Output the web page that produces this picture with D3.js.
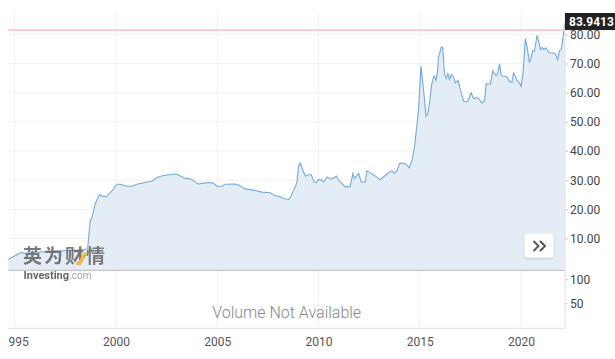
<html>
<head>
<script src="https://d3js.org/d3.v7.min.js"></script>
<style>
    body {margin: 0; background: #fff;}
    text {font-family: Roboto, "Noto Sans", sans-serif;}
</style>
</head>
<body>
<svg width=615 height=359></svg>
<script>
// price history (decimal year, price)
const years = [1994.69, 1995.02, 1995.31, 1995.52, 1996.01, 1996.75, 1997.49, 1998.23, 1998.53, 1998.6,
    1998.73, 1998.81, 1998.98, 1999.06, 1999.19, 1999.31, 1999.52, 1999.80, 2000.05, 2000.21,
    2000.54, 2000.79, 2001.03, 2001.78, 2002.02, 2002.35, 2002.93, 2003.09, 2003.42, 2003.67,
    2003.80, 2004.08, 2004.24, 2004.65, 2004.82, 2004.99, 2005.23, 2005.40, 2005.89, 2006.05,
    2006.38, 2006.79, 2007.21, 2007.62, 2007.78, 2008.11, 2008.27, 2008.52, 2008.60, 2008.85,
    2008.94, 2009.01, 2009.10, 2009.23, 2009.35, 2009.46, 2009.63, 2009.79, 2009.89, 2010.00,
    2010.12, 2010.25, 2010.42, 2010.58, 2010.74, 2010.88, 2010.99, 2011.16, 2011.32, 2011.48,
    2011.57, 2011.70, 2011.78, 2011.98, 2012.11, 2012.31, 2012.39, 2012.56, 2012.72, 2013.05,
    2013.21, 2013.46, 2013.63, 2013.74, 2013.87, 2014.00, 2014.12, 2014.33, 2014.48, 2014.62,
    2014.74, 2014.83, 2014.94, 2015.06, 2015.19, 2015.31, 2015.39, 2015.48, 2015.58, 2015.68,
    2015.73, 2015.80, 2015.88, 2015.93, 2016.06, 2016.13, 2016.22, 2016.31, 2016.39, 2016.47,
    2016.56, 2016.67, 2016.75, 2016.89, 2017.00, 2017.16, 2017.28, 2017.38, 2017.53, 2017.66,
    2017.82, 2017.95, 2018.07, 2018.20, 2018.28, 2018.48, 2018.61, 2018.68, 2018.78, 2018.84,
    2018.94, 2019.02, 2019.14, 2019.31, 2019.39, 2019.47, 2019.55, 2019.63, 2019.72, 2019.80,
    2019.93, 2020.00, 2020.10, 2020.21, 2020.30, 2020.41, 2020.49, 2020.57, 2020.66, 2020.79,
    2020.87, 2020.96, 2021.04, 2021.12, 2021.23, 2021.35, 2021.45, 2021.62, 2021.70, 2021.81,
    2021.90, 2021.98, 2022.08, 2022.16];
const prices = [2.9, 4.1, 5.2, 4.9, 5.3, 5.6, 5.8, 6.0, 6.3, 6.5,
    16.1, 16.9, 22.0, 23.2, 25.1, 24.5, 24.3, 26.3, 28.6, 28.6,
    27.9, 27.9, 28.6, 29.7, 30.9, 31.6, 32.1, 31.8, 30.6, 30.4,
    30.0, 28.6, 28.9, 29.2, 28.9, 27.9, 27.9, 28.6, 28.7, 28.3,
    27.0, 26.6, 25.9, 25.7, 24.9, 24.3, 23.7, 23.4, 23.9, 27.7,
    29.4, 34.6, 35.9, 33.4, 31.4, 31.7, 32.0, 29.4, 29.2, 30.2,
    30.2, 29.4, 31.1, 30.4, 30.7, 31.4, 30.0, 28.9, 27.7, 27.7,
    27.9, 32.3, 30.6, 32.3, 29.4, 29.3, 33.2, 32.5, 31.8, 30.2,
    31.1, 32.6, 33.2, 32.3, 33.2, 35.7, 35.9, 35.5, 34.2, 36.8,
    41.4, 47.1, 54.0, 69.0, 60.8, 51.9, 52.6, 56.3, 62.5, 65.4,
    65.6, 64.2, 67.4, 72.2, 75.6, 75.4, 66.5, 64.8, 66.5, 64.5,
    66.3, 65.4, 63.3, 64.2, 61.1, 57.1, 56.8, 57.2, 59.9, 58.0,
    58.3, 57.6, 56.5, 57.2, 63.1, 62.9, 67.6, 66.5, 65.9, 66.5,
    69.9, 65.9, 65.6, 65.4, 64.2, 63.6, 63.6, 66.7, 65.6, 64.2,
    63.3, 62.2, 66.5, 78.5, 75.6, 70.5, 71.6, 74.4, 74.2, 79.6,
    77.4, 74.8, 75.6, 74.8, 75.4, 73.9, 73.6, 73.6, 73.2, 71.3,
    74.4, 74.8, 79.2, 83.9413];

const priceTicks = [10, 20, 30, 40, 50, 60, 70, 80];
const volumeTicks = [50, 100];
const yearTicks = [1995, 2000, 2005, 2010, 2015, 2020];
const lastPrice = 83.9413;
const prevClose = 81.5;
const volumeNote = "Volume Not Available";

function toDate(y) {
    var yr = Math.floor(y);
    var start = new Date(yr, 0, 1), end = new Date(yr + 1, 0, 1);
    return new Date(+start + (y - yr) * (end - start));
}

const plotLeft = 8, plotRight = 565, plotTop = 12, priceBottom = 270.3, volBottom = 328.3;

var svg = d3.select("svg");

var x = d3.scaleTime()
    .domain([toDate(1994.67), toDate(2022.17)])
    .range([plotLeft, plotRight]);
var y = d3.scaleLinear()
    .domain([-0.9, 87.65])
    .range([priceBottom, plotTop]);
var yv = d3.scaleLinear()
    .domain([-2, 118.75])
    .range([volBottom, priceBottom]);

var data = years.map(function(d, i) { return {date: toDate(d), value: prices[i]}; });

// grid
svg.append("g").selectAll("line")
    .data(yearTicks).enter().append("line")
    .attr("x1", function(d) { return x(toDate(d)); })
    .attr("x2", function(d) { return x(toDate(d)); })
    .attr("y1", plotTop).attr("y2", volBottom)
    .style("stroke", "#f1f1f1");
svg.append("g").selectAll("line")
    .data(priceTicks).enter().append("line")
    .attr("x1", plotLeft).attr("x2", plotRight)
    .attr("y1", function(d) { return y(d); })
    .attr("y2", function(d) { return y(d); })
    .style("stroke", "#f1f1f1");

// price area + line
svg.append("path")
    .datum(data)
    .attr("d", d3.area()
        .x(function(d) { return x(d.date); })
        .y0(priceBottom)
        .y1(function(d) { return y(d.value); }))
    .style("fill", "#e4edf5");
svg.append("path")
    .datum(data)
    .attr("d", d3.line()
        .x(function(d) { return x(d.date); })
        .y(function(d) { return y(d.value); }))
    .style("fill", "none")
    .style("stroke", "#72aadb")
    .style("stroke-width", 1.1);

// previous close line
svg.append("line")
    .attr("x1", plotLeft).attr("x2", plotRight)
    .attr("y1", y(prevClose)).attr("y2", y(prevClose))
    .style("stroke", "#ffbcbc")
    .style("stroke-width", 1.5);

// watermark
var wm = svg.append("g").style("opacity", 0.9);
wm.append("text")
    .attr("x", 23).attr("y", 262.5)
    .style("font-family", "'Noto Sans CJK SC'")
    .style("font-size", "19px")
    .style("font-weight", "bold")
    .style("fill", "#6b6b6b")
    .style("letter-spacing", "2px")
    .text("英为财情");
wm.append("polygon")
    .attr("points", "76,265 80.5,265 88,253 84,252.5")
    .style("fill", "#f2b12e");
var inv = wm.append("text")
    .attr("x", 23.5).attr("y", 278.5)
    .style("font-size", "11px");
inv.append("tspan").style("font-weight", "bold").style("fill", "#555").text("Investing");
inv.append("tspan").style("fill", "#999").style("font-size", "10px").text(".com");

// panel borders
svg.append("line")
    .attr("x1", plotLeft).attr("x2", plotRight)
    .attr("y1", priceBottom).attr("y2", priceBottom)
    .style("stroke", "#c6c6c6").style("stroke-width", 1.3);
svg.append("line")
    .attr("x1", plotLeft).attr("x2", plotRight)
    .attr("y1", volBottom).attr("y2", volBottom)
    .style("stroke", "#dde1e6");
svg.append("line")
    .attr("x1", plotRight).attr("x2", plotRight)
    .attr("y1", plotTop).attr("y2", volBottom)
    .style("stroke", "#e0e0e0");

// right axes
var yAxis = svg.append("g")
    .attr("transform", "translate(" + plotRight + ",0)")
    .call(d3.axisRight(y).tickValues(priceTicks).tickFormat(d3.format(".2f")).tickSize(3).tickPadding(2));
var vAxis = svg.append("g")
    .attr("transform", "translate(" + plotRight + ",0)")
    .call(d3.axisRight(yv).tickValues(volumeTicks).tickSize(3).tickPadding(2));
[yAxis, vAxis].forEach(function(a) {
    a.select(".domain").remove();
    a.selectAll("line").style("stroke", "#ccc");
    a.selectAll("text").style("font-size", "12px").style("fill", "#444").style("font-family", "Roboto");
});

// x axis, clipped at the plot's left edge
var defs = svg.append("defs");
defs.append("clipPath").attr("id", "xclip")
    .append("rect").attr("x", plotLeft).attr("y", volBottom).attr("width", 615 - plotLeft).attr("height", 40);
var xAxis = svg.append("g")
    .attr("clip-path", "url(#xclip)")
    .append("g")
    .attr("transform", "translate(0," + volBottom + ")")
    .call(d3.axisBottom(x).tickValues(yearTicks.map(toDate)).tickFormat(d3.timeFormat("%Y")).tickSize(0).tickPadding(9));
xAxis.select(".domain").remove();
xAxis.selectAll("text").style("font-size", "12px").style("fill", "#555").style("font-family", "Roboto");

// volume note
svg.append("text")
    .attr("x", (plotLeft + plotRight) / 2 + 0.2).attr("y", 318.3)
    .attr("text-anchor", "middle")
    .style("font-size", "16px")
    .style("font-weight", 300)
    .style("fill", "#888")
    .text(volumeNote);

// last price badge
svg.append("rect")
    .attr("x", plotRight).attr("y", 13).attr("width", 50).attr("height", 17)
    .style("fill", "#222");
svg.append("text")
    .attr("x", 569).attr("y", 26)
    .style("font-size", "12px")
    .style("font-weight", "bold")
    .style("fill", "#fff")
    .text(d3.format(".4f")(lastPrice));

// scroll button
var flt = defs.append("filter").attr("id", "shadow")
    .attr("x", "-30%").attr("y", "-30%").attr("width", "160%").attr("height", "160%");
flt.append("feDropShadow").attr("dx", 0).attr("dy", 1).attr("stdDeviation", 1)
    .attr("flood-color", "#000").attr("flood-opacity", 0.18);
svg.append("rect")
    .attr("x", 524.5).attr("y", 233.5).attr("width", 29).attr("height", 24).attr("rx", 3)
    .style("fill", "#fff")
    .attr("filter", "url(#shadow)");
svg.append("path")
    .attr("d", "M533.5,241 L538.5,246 L533.5,251 M540,241 L545,246 L540,251")
    .style("fill", "none")
    .style("stroke", "#555")
    .style("stroke-width", 2);
</script>
</body>
</html>
